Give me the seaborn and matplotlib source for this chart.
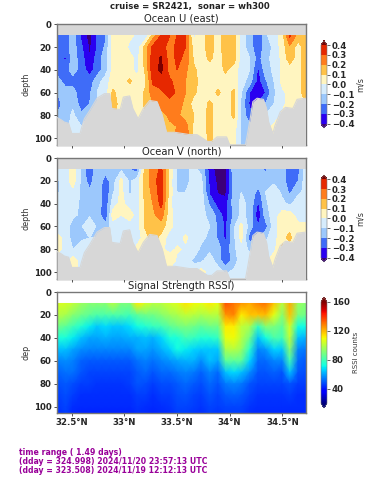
import matplotlib
matplotlib.use("Agg")
import matplotlib.pyplot as plt
from matplotlib.colors import ListedColormap, BoundaryNorm
import numpy as np
import seaborn as sns

lat = [32.36, 32.44, 32.51, 32.59, 32.67, 32.74, 32.82, 32.89, 32.97, 33.05, 33.12,
       33.20, 33.27, 33.35, 33.43, 33.50, 33.58, 33.66, 33.73, 33.81, 33.89, 33.96,
       34.04, 34.11, 34.19, 34.27, 34.34, 34.42, 34.50, 34.57, 34.65, 34.72]
depth = [10, 20, 30, 40, 50, 60, 70, 80, 90, 100, 106]

seabed_lat = [32.36, 32.40, 32.43, 32.47, 32.50, 32.58, 32.59, 32.62, 32.67, 32.74, 32.81, 32.86,
              32.88, 32.96, 32.99, 33.05, 33.08, 33.13, 33.18, 33.24, 33.31, 33.36, 33.40, 33.48,
              33.62, 33.69, 33.79, 33.83, 33.88, 33.97, 34.00, 34.15, 34.17, 34.20, 34.22, 34.26,
              34.32, 34.35, 34.37, 34.41, 34.43, 34.48, 34.53, 34.60, 34.64, 34.72]
seabed = [82, 84, 86, 87, 96, 96, 92, 83, 76, 65, 61, 61,
          74, 75, 64, 63, 74, 83, 74, 67, 68, 80, 95, 95,
          97, 97, 103, 103, 99, 99, 106, 106, 96, 80, 68, 65,
          66, 74, 86, 96, 89, 77, 73, 74, 66, 65]

u_10 = [-.25, -.27, -.15, -.32, -.45, -.28, -.22, .03, .05, .02, -.02, -.08, .15, .31, .3, .3,
        .31, -.02, .05, .15, .05, .15, .15, -.05, -.15, -.32, -.12, -.05, .05, .32, .15, .15]
u_20 = [-.25, -.25, -.15, -.28, -.42, -.3, -.18, .05, .05, -.02, -.08, .15, .32, .35, .25, .33,
        .3, .05, .05, .15, .05, .15, .15, -.05, -.15, -.28, -.15, -.08, .05, .18, .05, .15]
u_30 = [-.25, -.32, -.15, -.25, -.4, -.25, -.15, .03, .05, .03, -.03, .15, .36, .41, .25, .32,
        .28, .08, .05, .12, .05, .14, .15, -.05, -.1, -.25, -.12, -.08, .03, .15, .05, .15]
u_40 = [-.25, -.25, -.15, -.25, -.35, -.25, -.15, .03, .05, .03, -.03, .12, .36, .42, .25, .3,
        .22, .12, .05, .05, .05, .12, .05, -.05, -.1, -.32, -.15, -.08, .03, .05, .05, .15]
u_50 = [-.15, -.25, -.25, -.25, -.25, -.15, -.05, .05, .05, .12, .03, .08, .32, .35, .32, .25,
        .2, .15, .05, .05, .05, .05, .05, -.05, -.15, -.35, -.22, -.1, .03, .05, .05, .15]
u_60 = [-.2, -.15, -.15, -.28, -.22, -.1, -.05, .12, .05, .03, .03, .12, .25, .28, .35, .28,
        .2, .12, .05, .05, .12, .05, .12, -.1, -.3, -.38, -.3, -.12, -.02, .03, .05, .15]
u_70 = [-.25, -.15, -.12, -.25, -.2, -.1, -.05, .15, .05, .03, .03, .12, .2, .25, .25, .25,
        .17, .05, .05, .12, .05, .05, .12, -.12, -.32, -.3, -.2, -.1, -.03, .05, .05, .1]
u_80 = [-.2, -.15, -.08, -.18, -.1, -.1, -.05, .12, .05, .03, .03, .1, .18, .15, .22, .22,
        .15, .1, .05, .13, .05, .05, .12, -.12, -.28, -.2, -.1, -.08, .02, .05, .05, .1]
u_90 = [-.15, -.15, -.05, -.1, -.08, -.05, -.05, .05, .05, .03, .03, .05, .12, .15, .18, .2,
        .25, .07, .05, .13, .05, .05, .05, -.12, -.18, -.1, -.05, .03, .05, .05, .05, .1]
u_100 = [-.1, -.1, -.03, -.05, -.05, -.05, -.05, .05, .05, .03, .03, .05, .1, .12, .15, .25,
         .28, .05, .05, .12, .05, .05, .03, -.12, -.15, -.1, -.05, .03, .05, .05, .05, .1]
u_106 = [-.1, -.1, -.03, -.05, -.05, -.05, -.05, .05, .05, .03, .03, .05, .1, .12, .15, .25,
         .28, .05, .05, .12, .05, .05, .03, -.12, -.15, -.1, -.05, .03, .05, .05, .05, .1]

v_10 = [-.05, -.05, .05, -.12, -.3, -.12, -.15, -.2, -.12, -.2, -.25, .15, .25, .32, .08, -.12,
        -.12, -.08, -.12, -.35, -.45, -.45, -.12, -.12, -.12, -.15, -.22, -.12, -.12, -.3, -.25, -.03]
v_20 = [-.12, -.05, .05, -.12, -.25, -.12, -.25, -.15, .03, -.12, -.05, .15, .25, .36, .05, -.12,
        -.12, -.08, -.08, -.32, -.43, -.45, -.15, -.15, -.12, -.12, -.15, -.12, -.15, -.28, -.2, -.05]
v_30 = [-.12, -.05, -.03, -.12, -.18, -.12, -.28, -.12, .03, -.12, -.05, .15, .22, .36, .05, -.1,
        -.1, -.05, -.05, -.32, -.41, -.43, -.15, -.1, -.1, -.25, -.1, -.05, -.12, -.22, -.12, -.08]
v_40 = [-.05, -.03, -.05, -.12, -.15, -.12, -.28, -.05, .03, -.05, -.05, .12, .2, .33, .03, -.08,
        -.05, -.05, -.05, -.22, -.35, -.35, -.15, -.08, -.12, -.32, -.12, -.05, -.08, -.12, -.05, -.05]
v_50 = [-.05, -.03, -.08, -.12, -.12, -.12, -.32, .05, 0, .05, -.05, .12, .18, .25, .03, -.05,
        -.05, -.05, -.08, -.12, -.25, -.35, -.18, -.08, -.12, -.38, -.15, -.05, .05, .05, -.05, -.05]
v_60 = [-.05, -.05, -.15, -.12, 0, -.12, -.15, -.05, -.05, -.05, -.05, .12, .17, .15, .03, -.05,
        -.05, -.05, -.05, -.1, -.22, -.32, -.12, .03, -.15, -.3, -.25, -.05, .08, .08, .03, .03]
v_70 = [.03, -.03, -.15, -.12, -.1, -.1, -.12, -.05, -.05, -.05, -.05, .05, .15, .06, -.05, -.05,
        .02, -.05, -.08, -.12, -.22, -.32, -.12, .03, -.25, -.2, -.12, -.05, .08, .12, .03, .03]
v_80 = [.03, -.03, -.1, -.05, -.05, -.05, -.05, -.05, -.05, -.05, .03, 0, -.05, .03, -.05, .02,
        -.02, -.05, -.12, -.12, -.15, -.28, -.12, -.05, -.12, -.1, -.05, -.03, .12, .05, .03, .03]
v_90 = [-.03, -.03, .05, -.05, -.05, -.05, -.05, -.05, -.05, -.05, -.05, -.05, -.05, .04, .1, -.03,
        -.05, -.12, -.12, -.05, -.15, -.28, -.15, -.05, -.05, -.05, -.05, .08, .15, .05, .03, .03]
v_100 = [-.03, -.03, .05, -.05, -.05, -.05, -.05, -.05, -.05, -.05, -.05, -.05, -.05, -.05, -.05, -.05,
         -.05, -.05, .05, -.05, -.05, -.12, -.08, -.05, -.05, -.05, -.05, .03, .05, .03, .03, .03]
v_106 = [-.03, -.03, .05, -.05, -.05, -.05, -.05, -.05, -.05, -.05, -.05, -.05, -.05, -.05, -.05, -.05,
         -.05, -.05, -.05, -.05, -.05, -.08, -.05, -.05, -.05, -.05, -.05, .03, .05, .03, .03, .03]

rssi_10 = [105, 105, 102, 96, 92, 92, 92, 100, 90, 90, 112, 105, 100, 100, 104, 106,
           113, 110, 108, 112, 108, 135, 130, 125, 122, 128, 130, 118, 100, 122, 95, 92]
rssi_20 = [100, 98, 92, 88, 85, 82, 82, 82, 82, 80, 85, 88, 88, 92, 96, 98,
           102, 100, 98, 100, 100, 125, 128, 112, 118, 118, 120, 108, 92, 118, 90, 88]
rssi_30 = [88, 85, 80, 75, 70, 65, 68, 65, 65, 68, 72, 75, 78, 80, 85, 88,
           90, 88, 85, 88, 88, 112, 112, 102, 98, 78, 92, 90, 85, 105, 72, 72]
rssi_40 = [74, 74, 70, 64, 60, 60, 62, 60, 60, 62, 62, 64, 62, 67, 74, 74,
           80, 78, 75, 75, 78, 108, 110, 100, 88, 64, 72, 82, 80, 102, 64, 62]
rssi_50 = [64, 64, 60, 57, 56, 56, 56, 56, 56, 56, 60, 60, 58, 62, 66, 72,
           70, 67, 65, 65, 65, 98, 100, 95, 76, 56, 58, 67, 65, 92, 56, 54]
rssi_60 = [55, 57, 55, 51, 50, 50, 50, 50, 50, 50, 53, 55, 53, 56, 58, 60,
           62, 62, 57, 64, 60, 85, 85, 85, 67, 52, 52, 56, 56, 80, 52, 50]
rssi_70 = [51, 53, 53, 49, 47, 47, 47, 47, 47, 47, 50, 52, 49, 52, 52, 54,
           56, 54, 51, 56, 52, 64, 68, 64, 57, 49, 49, 51, 49, 64, 49, 48]
rssi_80 = [48, 50, 48, 46, 46, 45, 45, 45, 45, 46, 49, 48, 46, 48, 48, 50,
           52, 50, 48, 52, 49, 54, 56, 54, 49, 47, 47, 47, 47, 49, 46, 46]
rssi_90 = [46, 48, 46, 44, 44, 44, 44, 44, 44, 44, 46, 46, 44, 46, 46, 48,
           49, 47, 46, 49, 47, 50, 51, 50, 47, 45, 45, 45, 45, 46, 44, 44]
rssi_100 = [45, 47, 44, 43, 43, 43, 43, 43, 43, 43, 45, 44, 43, 44, 45, 47,
            47, 46, 45, 47, 46, 47, 47, 47, 45, 44, 44, 44, 44, 44, 44, 44]
rssi_106 = [44, 46, 43, 42, 42, 42, 42, 42, 42, 42, 44, 43, 42, 43, 44, 46,
            46, 45, 44, 46, 45, 46, 46, 46, 44, 43, 43, 43, 43, 43, 43, 43]

vel_levels = [-.4, -.3, -.2, -.1, 0, .1, .2, .3, .4]
vel_colors = ["#2a00f0", "#3f6cf8", "#9cc8fc", "#d6ecfc", "#fff5c0", "#ffc248", "#ff7c1c", "#e62800"]
xticks = [32.5, 33, 33.5, 34, 34.5]
xticklabels = ["32.5°N", "33°N", "33.5°N", "34°N", "34.5°N"]
GRAY = "#d7d7d7"
W, H = 379, 480

sns.set_style("ticks")
plt.rcParams["font.family"] = ["DejaVu Sans"]
plt.rcParams["axes.edgecolor"] = "#777777"

vel_cmap = ListedColormap(vel_colors)
vel_cmap.set_under("#3c0078")
vel_cmap.set_over("#7a0000")
vel_norm = BoundaryNorm(vel_levels, vel_cmap.N)
jet = matplotlib.colormaps["jet"].copy()
jet.set_under("#00007a")
jet.set_over("#800000")


def make_ax(fig, top, bottom):
    return fig.add_axes([57 / W, 1 - bottom / H, 248.5 / W, (bottom - top) / H])


def make_cax(fig, top, bottom):
    return fig.add_axes([321 / W, 1 - bottom / H, 6 / W, (bottom - top) / H])


def style_ax(ax, ylabel, title, show_x=False, ylim=105.7):
    ax.set_xlim(lat[0], lat[-1])
    ax.set_ylim(ylim, 0)
    ax.set_yticks([0, 20, 40, 60, 80, 100])
    ax.set_xticks(xticks)
    ax.set_xticklabels(xticklabels if show_x else [])
    ax.tick_params(length=2.5, width=.6, labelsize=6.2, pad=1.5, color="#333333")
    for lab in ax.get_xticklabels() + ax.get_yticklabels():
        lab.set_fontweight("bold")
    ax.set_ylabel(ylabel, fontsize=5.8, labelpad=2, color="#333333")
    ax.set_xlabel("")
    ax.set_title(title, fontsize=7.2, pad=2.2, color="#222222")
    for sp in ax.spines.values():
        sp.set_visible(True)
        sp.set_linewidth(1)


def vel_panel(fig, grid, title, top, bottom, cb_top, cb_bottom):
    ax = make_ax(fig, top, bottom)
    ax.set_facecolor(GRAY)
    cf = ax.contourf(lat, depth, grid, levels=vel_levels, cmap=vel_cmap, norm=vel_norm, extend="both")
    ax.fill_between(seabed_lat, seabed, 110, color=GRAY, lw=0, zorder=3)
    sns.lineplot(x=seabed_lat, y=seabed, ax=ax, color=GRAY, lw=.8, zorder=4, legend=False, sort=False)
    style_ax(ax, "depth", title)
    cax = make_cax(fig, cb_top, cb_bottom)
    cb = fig.colorbar(cf, cax=cax, extend="both", extendfrac=.055, ticks=vel_levels, spacing="uniform")
    cb.set_label("m/s", fontsize=5.8, labelpad=1, color="#333333")
    cb.ax.tick_params(length=2, width=.5, labelsize=6.2, pad=1.5)
    for lab in cb.ax.get_yticklabels():
        lab.set_fontweight("bold")
    cb.outline.set_linewidth(.4)
    return ax


u = np.array([u_10, u_20, u_30, u_40, u_50, u_60, u_70, u_80, u_90, u_100, u_106])
v = np.array([v_10, v_20, v_30, v_40, v_50, v_60, v_70, v_80, v_90, v_100, v_106])
rssi = np.array([rssi_10, rssi_20, rssi_30, rssi_40, rssi_50, rssi_60, rssi_70, rssi_80,
                 rssi_90, rssi_100, rssi_106])

fig = plt.figure(figsize=(W / 100, H / 100), dpi=100)

vel_panel(fig, u, "Ocean U (east)", 24.3, 144.5, 40.7, 128)
vel_panel(fig, v, "Ocean V (north)", 158, 278.5, 175, 262)

ax = make_ax(fig, 292, 412.5)
ax.set_facecolor("white")
mesh = ax.pcolormesh(lat, depth, rssi, cmap=jet, vmin=20, vmax=160, shading="gouraud")
style_ax(ax, "dep", "Signal Strength RSSI)", show_x=True, ylim=105)
cax = make_cax(fig, 297.3, 408)
cb = fig.colorbar(mesh, cax=cax, extend="both", extendfrac=.045, ticks=[40, 80, 120, 160])
cb.set_label("RSSI counts", fontsize=5, labelpad=2, color="#333333")
cb.ax.tick_params(length=2, width=.5, labelsize=6.2, pad=1.5)
for lab in cb.ax.get_yticklabels():
    lab.set_fontweight("bold")
cb.outline.set_linewidth(.4)

fig.text(189.5 / W, 1 - 6.7 / H, "cruise = SR2421,  sonar = wh300", ha="center", va="center",
         fontsize=6.1, fontweight="bold", color="#222222")
fig.text(19 / W, 1 - 452.5 / H, "time range ( 1.49 days)", color="#990099",
         fontsize=5.55, fontweight="bold", va="center")
fig.text(19 / W, 1 - 461.5 / H, "(dday = 324.998) 2024/11/20 23:57:13 UTC", color="#990099",
         fontsize=5.55, fontweight="bold", va="center")
fig.text(19 / W, 1 - 470.5 / H, "(dday = 323.508) 2024/11/19 12:12:13 UTC", color="#990099",
         fontsize=5.55, fontweight="bold", va="center")

fig.savefig("out.png", dpi=100)
